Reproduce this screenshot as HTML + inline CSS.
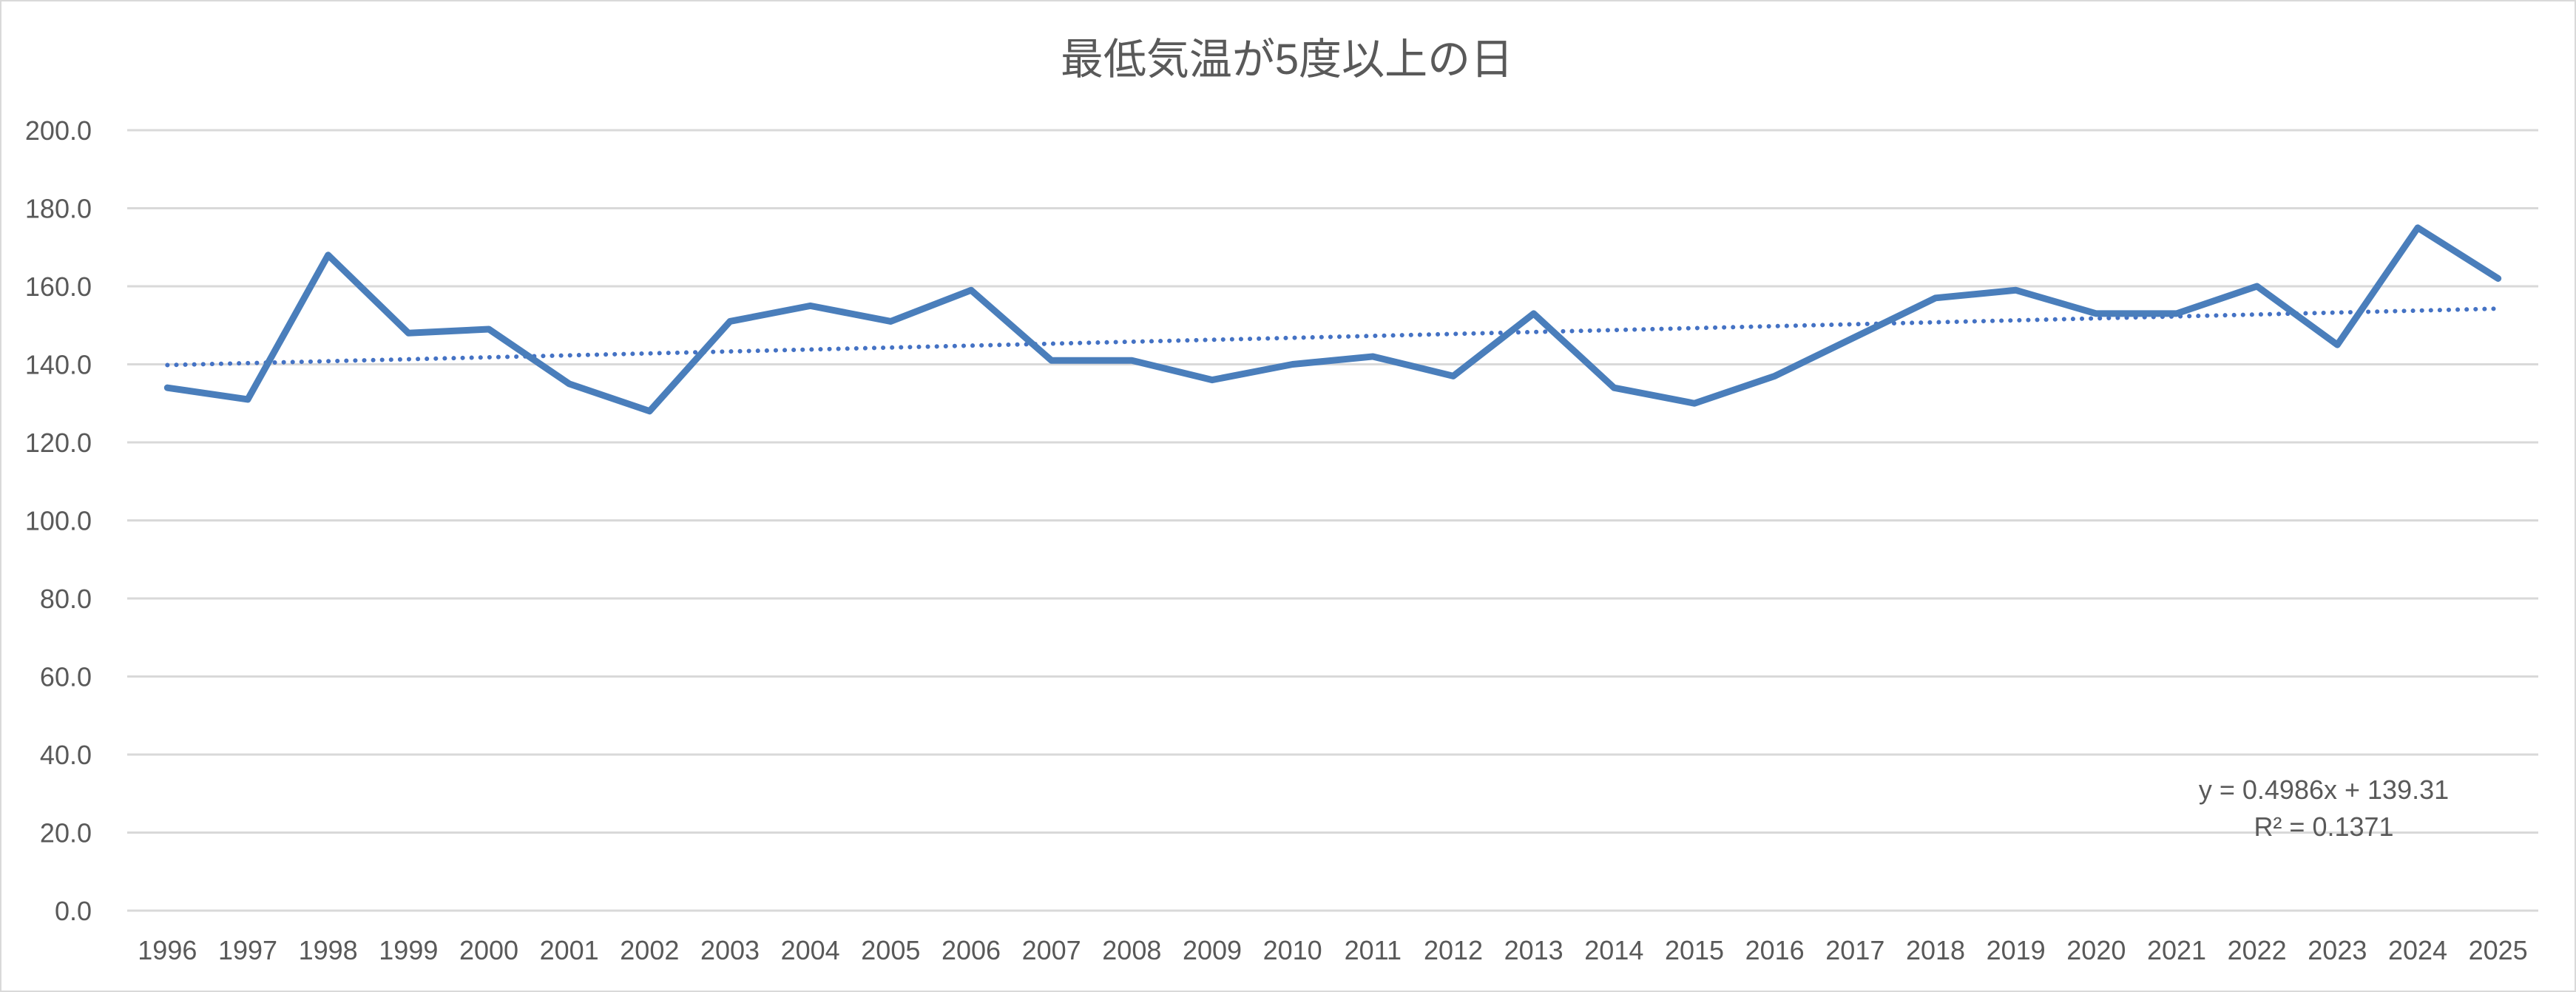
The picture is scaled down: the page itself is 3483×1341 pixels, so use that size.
<!DOCTYPE html>
<html><head><meta charset="utf-8"><style>
html,body{margin:0;padding:0;background:#fff}
svg{display:block}
text{font-family:"Liberation Sans","Noto Sans CJK JP",sans-serif;fill:#595959}
</style></head><body>
<svg width="3483" height="1341" viewBox="0 0 3483 1341" xmlns="http://www.w3.org/2000/svg">
<rect x="1" y="1" width="3481" height="1339" fill="#fff" stroke="#d9d9d9" stroke-width="2"/>
<text x="1740" y="100" font-size="58" text-anchor="middle">最低気温が5度以上の日</text>
<g id="grid" stroke="#d9d9d9" stroke-width="3"></g>
<g id="yl" font-size="36" text-anchor="end"></g>
<g id="xl" font-size="36" text-anchor="middle"></g>
<polyline id="trend" fill="none" stroke="#4472c4" stroke-width="6" stroke-dasharray="0.1 12" stroke-linecap="round"/>
<polyline id="line" fill="none" stroke="#4a7ebb" stroke-width="9" stroke-linejoin="round" stroke-linecap="round"/>
<text x="3142" y="1080" font-size="36" text-anchor="middle">y = 0.4986x + 139.31</text>
<text x="3142" y="1130" font-size="36" text-anchor="middle">R² = 0.1371</text>
</svg>
<script>
var d=[134,131,168,148,149,135,128,151,155,151,159,141,141,136,140,142,137,153,134,130,137,147,157,159,153,153,160,145,175,162];
var L=172,R=3432,T=176,B=1231,step=(R-L)/30;
function Y(v){return B-(v/200)*(B-T);}
function X(i){return L+step*(i+0.5);}
var g=document.getElementById('grid'),yl=document.getElementById('yl'),xl=document.getElementById('xl'),ns="http://www.w3.org/2000/svg";
for(var v=0;v<=200;v+=20){var l=document.createElementNS(ns,'line');l.setAttribute('x1',L);l.setAttribute('x2',R);l.setAttribute('y1',Y(v));l.setAttribute('y2',Y(v));g.appendChild(l);
var t=document.createElementNS(ns,'text');t.setAttribute('x',124);t.setAttribute('y',Y(v)+13);t.textContent=v.toFixed(1);yl.appendChild(t);}
var p=[],tp=[];
for(var i=0;i<30;i++){p.push(X(i)+','+Y(d[i]));tp.push(X(i)+','+Y(0.4986*(i+1)+139.31));
var t=document.createElementNS(ns,'text');t.setAttribute('x',X(i));t.setAttribute('y',1297);t.textContent=1996+i;xl.appendChild(t);}
document.getElementById('line').setAttribute('points',p.join(' '));
document.getElementById('trend').setAttribute('points',X(0)+','+Y(0.4986+139.31)+' '+X(29)+','+Y(0.4986*30+139.31));
</script>
</body></html>
